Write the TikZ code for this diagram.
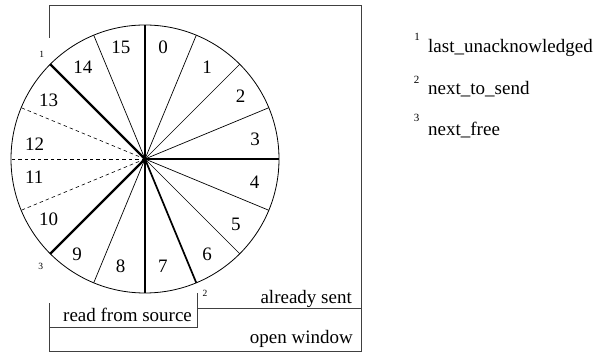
\documentclass[tikz,border=0pt]{standalone}
\usepackage{fontspec}
\setmainfont{Liberation Serif}
\usetikzlibrary{calc}
\begin{document}
\begin{tikzpicture}[x=1pt,y=-1pt,
  spoke/.style={line width=0.7pt},
  axisline/.style={line width=1.1pt},
  ptr/.style={line width=2.2pt},
  ptrb/.style={line width=1.7pt},
  freeline/.style={line width=0.6pt, dash pattern=on 3.5pt off 3pt},
  frame/.style={line width=0.8pt, draw=black!75},
  lbl/.style={font=\fontsize{19}{22}\selectfont, inner sep=0pt},
  mk/.style={font=\fontsize{9.5}{11}\selectfont, inner sep=0pt},
  leg/.style={font=\fontsize{11}{13}\selectfont, inner sep=0pt}]
\useasboundingbox (0,0) rectangle (595,352);
\coordinate (c) at (145,159);
\foreach \k in {0,...,15}{
  \coordinate (b\k) at ($(c)+({22.5*\k-90}:134)$);
}
% circle
\draw[line width=0.8pt] (c) circle [radius=134pt];
% spokes
\foreach \k in {1,2,3,5,6,9,15}{ \draw[spoke] (c) -- (b\k); }
\foreach \k in {0,4,8}{ \draw[axisline] (c) -- (b\k); }
\foreach \k in {11,12,13}{ \draw[freeline] (c) -- (b\k); }
\draw[ptr] (c) -- (b14);
\draw[ptr] (c) -- (b10);
\draw[ptrb] (c) -- (b7);
% segment numbers
\node[lbl] (n15) at (120.8,47.5) {15};
\node[lbl] (n0) at (163,47.5) {0};
\node[lbl] (n1) at (207,67) {1};
\node[lbl] (n2) at (240.5,96) {2};
\node[lbl] (n3) at (255,139) {3};
\node[lbl] (n4) at (254.7,182.5) {4};
\node[lbl] (n5) at (235.8,224) {5};
\node[lbl] (n6) at (207,254) {6};
\node[lbl] (n7) at (162.8,266) {7};
\node[lbl] (n8) at (120.5,266) {8};
\node[lbl] (n9) at (77.2,254) {9};
\node[lbl] (n10) at (48.7,219) {10};
\node[lbl] (n11) at (34.3,177) {11};
\node[lbl] (n12) at (34.7,144) {12};
\node[lbl] (n13) at (48.7,100) {13};
\node[lbl] (n14) at (82.8,67.5) {14};
% pointer marks
\node[mk] (m1) at (41.7,54) {1};
\node[mk] (m2) at (205,293.7) {2};
\node[mk] (m3) at (40.8,266) {3};
% frames
\coordinate (f1) at (49,38);
\coordinate (f2) at (49,5);
\coordinate (f3) at (361,5);
\coordinate (f4) at (361,351);
\coordinate (f5) at (49,351);
\coordinate (f6) at (49,303);
\coordinate (g1) at (49,327);
\coordinate (g2) at (197,327);
\coordinate (g3) at (197,293);
\coordinate (h1) at (197,308);
\coordinate (h2) at (361,308);
\draw[frame] (f1) -- (f2) -- (f3) -- (f4) -- (f5) -- (f6);
\draw[frame] (g1) -- (g2) -- (g3);
\draw[frame] (h1) -- (h2);
% frame labels
\node[lbl, anchor=base east] (sent) at (352,303.3) {already sent};
\node[lbl, anchor=base east] (open) at (353,343.3) {open window};
\node[lbl, anchor=base west] (read) at (63,321.7) {read from source};
% legend
\node[leg] (s1) at (417,37) {1};
\node[leg] (s2) at (416.5,79.5) {2};
\node[leg] (s3) at (416.5,117.5) {3};
\node[lbl, anchor=base west] (l1) at (428,53) {last\_unacknowledged};
\node[lbl, anchor=base west] (l2) at (428,95) {next\_to\_send};
\node[lbl, anchor=base west] (l3) at (428,136) {next\_free};
\end{tikzpicture}
\end{document}
